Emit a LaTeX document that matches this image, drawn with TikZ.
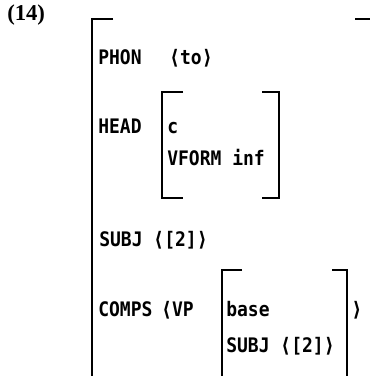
\documentclass[tikz,border=0pt]{standalone}
\usepackage{fontspec}
\setmainfont{Liberation Serif}
\newfontfamily\avmfont[FakeStretch=0.9]{DejaVu Sans Mono}
\usepackage{tikz}
\usetikzlibrary{positioning}
\tikzset{
  feat/.style={anchor=base west, inner sep=0pt, font=\avmfont\bfseries\fontsize{15}{17}\selectfont},
  exnum/.style={anchor=base west, inner sep=0pt, font=\bfseries\fontsize{17}{19}\selectfont},
  brk/.style={line width=1.5pt, line cap=butt}
}
\begin{document}
\begin{tikzpicture}[x=0.75pt,y=-0.75pt]
  \useasboundingbox (0,0) rectangle (370,376);
  % example number
  \node[exnum] (num) at (7,20) {(14)};
  % outer matrix
  \draw[brk] (113,19) -- (92,19) -- (92,376);
  \draw[brk] (355,19) -- (370,19);
  \node[feat] (phon) at (98,64) {PHON};
  \node[feat] (phonval) at (169,64) {⟨to⟩};
  % HEAD
  \node[feat] (head) at (98,133) {HEAD};
  \draw[brk] (183,92) -- (162,92) -- (162,198) -- (183,198);
  \draw[brk] (262,92) -- (279,92) -- (279,198) -- (262,198);
  \node[feat] (headc) at (167,133) {c};
  \node[feat] (vform) at (167,165) {VFORM inf};
  % SUBJ
  \node[feat] (subj) at (99,246) {SUBJ ⟨[2]⟩};
  % COMPS
  \node[feat] (comps) at (98,316) {COMPS};
  \node[feat] (vp) at (161,316) {⟨VP};
  \draw[brk] (242,270) -- (222,270) -- (222,376);
  \draw[brk] (332,270) -- (347,270) -- (347,376);
  \node[feat] (base) at (226,316) {base};
  \node[feat] (compsend) at (351,316) {⟩};
  \node[feat] (subjin) at (226,352) {SUBJ ⟨[2]⟩};
\end{tikzpicture}
\end{document}
